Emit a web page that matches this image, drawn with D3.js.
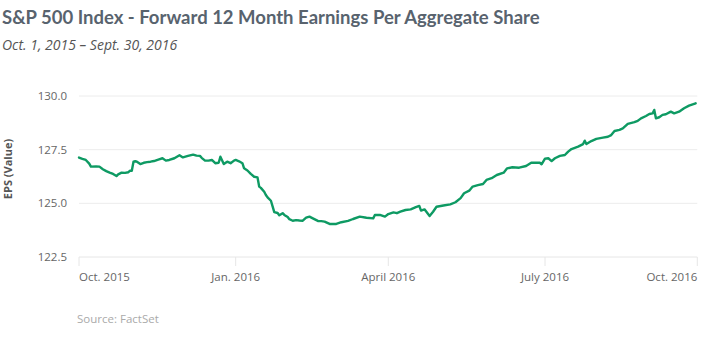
<!DOCTYPE html>
<html><head><meta charset="utf-8">
<script src="https://cdn.jsdelivr.net/npm/d3@7"></script>
<style>
html,body{margin:0;padding:0;background:#fff;}
svg{display:block;}
</style></head>
<body><svg id="chart" width="708" height="342"></svg>
<script>
const titleText = "S&P 500 Index - Forward 12 Month Earnings Per Aggregate Share";
const subtitleText = "Oct. 1, 2015 \u2013 Sept. 30, 2016";
const yAxisTitle = "EPS (Value)";
const sourceText = "Source: FactSet";

const dates = [
"2015-10-01","2015-10-03","2015-10-05","2015-10-07","2015-10-08","2015-10-11","2015-10-13","2015-10-15","2015-10-17","2015-10-19",
"2015-10-21","2015-10-23","2015-10-24","2015-10-26","2015-10-28","2015-10-30","2015-10-31","2015-11-01","2015-11-02","2015-11-03",
"2015-11-04","2015-11-06","2015-11-08","2015-11-10","2015-11-12","2015-11-14","2015-11-17","2015-11-19","2015-11-21","2015-11-23",
"2015-11-26","2015-11-29","2015-12-01","2015-12-04","2015-12-07","2015-12-09","2015-12-11","2015-12-12","2015-12-14","2015-12-16",
"2015-12-18","2015-12-20","2015-12-22","2015-12-23","2015-12-25","2015-12-27","2015-12-29","2015-12-31",
"2016-01-01","2016-01-03","2016-01-05","2016-01-06","2016-01-08","2016-01-10","2016-01-12","2016-01-14","2016-01-15","2016-01-16",
"2016-01-18","2016-01-19","2016-01-20","2016-01-22","2016-01-23","2016-01-24","2016-01-26","2016-01-27","2016-01-29","2016-01-30",
"2016-02-01","2016-02-02","2016-02-04","2016-02-06","2016-02-08","2016-02-10","2016-02-12","2016-02-14","2016-02-16","2016-02-19",
"2016-02-21","2016-02-23","2016-02-26","2016-03-01","2016-03-04","2016-03-08","2016-03-11","2016-03-15","2016-03-19","2016-03-23",
"2016-03-24","2016-03-27","2016-03-30",
"2016-04-01","2016-04-04","2016-04-06","2016-04-08","2016-04-11","2016-04-14","2016-04-17","2016-04-19","2016-04-20","2016-04-22",
"2016-04-25","2016-04-27","2016-04-29","2016-05-03","2016-05-07","2016-05-10","2016-05-13","2016-05-15","2016-05-18","2016-05-20",
"2016-05-23","2016-05-26","2016-05-28","2016-05-31","2016-06-03","2016-06-07","2016-06-09","2016-06-12","2016-06-16","2016-06-20",
"2016-06-23","2016-06-28","2016-06-29","2016-07-01",
"2016-07-03","2016-07-05","2016-07-07","2016-07-10","2016-07-13","2016-07-15","2016-07-17","2016-07-21","2016-07-24","2016-07-25",
"2016-07-26","2016-07-29","2016-08-01","2016-08-05","2016-08-08","2016-08-10","2016-08-12","2016-08-15","2016-08-17","2016-08-20",
"2016-08-24","2016-08-26","2016-08-28","2016-08-31","2016-09-02","2016-09-04","2016-09-05","2016-09-06","2016-09-08","2016-09-10",
"2016-09-12","2016-09-15","2016-09-17","2016-09-20","2016-09-23","2016-09-26","2016-09-30"
];
const eps = [
127.13,127.07,127.02,126.85,126.71,126.72,126.71,126.59,126.50,126.43,
126.37,126.27,126.35,126.43,126.42,126.45,126.52,126.52,126.94,126.96,
126.94,126.83,126.89,126.92,126.94,126.97,127.05,127.10,126.99,127.02,
127.10,127.24,127.14,127.21,127.27,127.22,127.21,127.12,126.99,126.99,
127.02,126.87,126.89,127.17,126.83,126.94,126.87,126.99,
127.02,126.96,126.87,126.63,126.53,126.37,126.24,126.21,125.78,125.72,
125.54,125.39,125.28,125.12,124.86,124.59,124.55,124.44,124.54,124.46,
124.36,124.26,124.19,124.22,124.20,124.19,124.33,124.38,124.30,124.18,
124.17,124.15,124.04,124.04,124.12,124.18,124.27,124.38,124.33,124.30,
124.46,124.46,124.38,
124.50,124.58,124.54,124.61,124.69,124.72,124.82,124.88,124.66,124.72,
124.41,124.61,124.84,124.90,124.95,125.05,125.24,125.47,125.59,125.78,
125.85,125.90,126.09,126.17,126.32,126.43,126.63,126.68,126.66,126.74,
126.89,126.89,126.82,127.08,
127.10,126.97,127.10,127.21,127.25,127.41,127.53,127.64,127.76,127.92,
127.76,127.90,128.00,128.06,128.10,128.18,128.37,128.42,128.49,128.70,
128.78,128.84,128.96,129.07,129.16,129.19,129.35,128.96,129.01,129.12,
129.15,129.27,129.19,129.27,129.43,129.55,129.66
];
const xTickDates = ["2015-10-01","2016-01-01","2016-04-01","2016-07-01","2016-10-01"];
const xTickLabels = ["Oct. 2015","Jan. 2016","April 2016","July 2016","Oct. 2016"];
const yTicks = [122.5,125.0,127.5,130.0];

const parse = d3.timeParse("%Y-%m-%d");
const data = dates.map((d,i)=>({date:parse(d), v:eps[i]}));
const tickDates = xTickDates.map(parse);

const svg = d3.select("#chart");
const plotLeft = 79, plotRight = 697.3, plotTop = 96, plotBottom = 257;

const x = d3.scaleTime()
  .domain(tickDates)
  .range([79, 235.7, 388.3, 545, 697.3]);
const y = d3.scaleLinear().domain([122.5,130]).range([plotBottom, plotTop]);

// gridlines
svg.append("g").selectAll("line").data(yTicks.filter(t=>t>122.5)).join("line")
  .attr("x1",plotLeft).attr("x2",plotRight)
  .attr("y1",d=>y(d)).attr("y2",d=>y(d))
  .attr("stroke","#ececec").attr("stroke-width",1);

// y labels
svg.append("g").selectAll("text").data(yTicks).join("text")
  .attr("x",67).attr("y",d=>y(d)).attr("dy","0.35em")
  .attr("text-anchor","end")
  .attr("font-family","'Open Sans', sans-serif").attr("font-size",11.5)
  .attr("fill","#666").text(d=>d.toFixed(1));

// x axis
const xa = svg.append("g").attr("transform",`translate(0,${plotBottom})`);
xa.append("line").attr("x1",plotLeft).attr("x2",plotRight).attr("y1",0).attr("y2",0)
  .attr("stroke","#e6e6e6");
xa.selectAll("line.tick").data(tickDates).join("line").attr("class","tick")
  .attr("x1",d=>x(d)).attr("x2",d=>x(d)).attr("y1",0).attr("y2",9)
  .attr("stroke","#e6e6e6");
xa.selectAll("text").data(tickDates).join("text")
  .attr("x",d=>x(d)).attr("y",24)
  .attr("text-anchor",(d,i)=> i===0 ? "start" : (i===tickDates.length-1 ? "end" : "middle"))
  .attr("font-family","'Open Sans', sans-serif").attr("font-size",11.5)
  .attr("fill","#666").text((d,i)=>xTickLabels[i]);

// line
svg.append("path").datum(data)
  .attr("fill","none").attr("stroke","#0e9a63").attr("stroke-width",2.4)
  .attr("stroke-linejoin","round").attr("stroke-linecap","round")
  .attr("d", d3.line().x(d=>x(d.date)).y(d=>y(d.v)));

// y title
svg.append("text").attr("transform","translate(12,169) rotate(-90)")
  .attr("text-anchor","middle")
  .attr("font-family","'Open Sans', sans-serif").attr("font-weight","bold").attr("font-size",11)
  .attr("fill","#555").text(yAxisTitle);

// title
svg.append("text").attr("x",2).attr("y",24)
  .attr("font-family","Lato, sans-serif").attr("font-weight","bold").attr("font-size",18.5)
  .attr("fill","#58636e").text(titleText);
svg.append("text").attr("x",2).attr("y",50)
  .attr("font-family","'Open Sans', sans-serif").attr("font-style","italic").attr("font-size",14)
  .attr("fill","#555").text(subtitleText);
svg.append("text").attr("x",77).attr("y",323)
  .attr("font-family","'Open Sans', sans-serif").attr("font-size",11.5)
  .attr("fill","#aaa").text(sourceText);
</script></body></html>
